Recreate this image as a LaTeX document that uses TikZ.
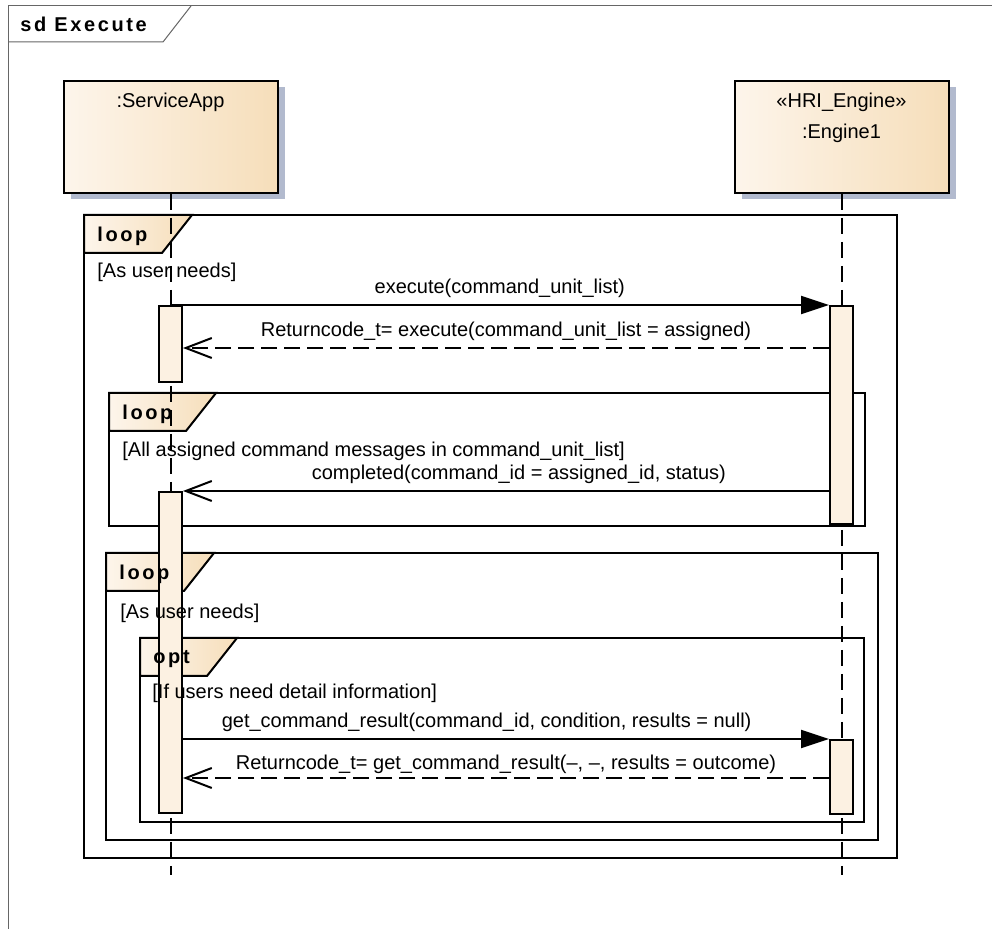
\documentclass[tikz,border=0pt]{standalone}
\usepackage{fontspec}
\setmainfont{Liberation Sans}
\newfontfamily\tagfont[LetterSpace=13]{Liberation Sans}
\usetikzlibrary{positioning,calc,arrows.meta,shadows}

\definecolor{headL}{RGB}{253,245,235}
\definecolor{headR}{RGB}{246,222,186}
\definecolor{shade}{RGB}{178,186,206}
\definecolor{actfill}{RGB}{252,241,226}

\tikzset{
  head/.style={draw,line width=1pt,left color=headL,right color=headR,
    minimum width=107pt,minimum height=56pt,
    drop shadow={shadow xshift=3.5pt,shadow yshift=-3pt,fill=shade,opacity=1}},
  act/.style={draw,line width=1pt,fill=actfill,minimum width=11.5pt,inner sep=0pt,anchor=north},
  frame/.style={draw,line width=1pt,anchor=north west,outer sep=0pt,inner sep=0pt},
  tab/.style={draw,line width=1pt,left color=headL,right color=headR},
  tagtext/.style={font=\tagfont\bfseries\fontsize{10}{12}\selectfont,inner sep=0pt,anchor=west},
  guard/.style={anchor=west,inner sep=0pt},
  sdline/.style={draw=black!60,line width=0.5pt},
  lifeline/.style={line width=1pt,dash pattern=on 8pt off 4pt},
  call/.style={-{Triangle[length=14pt,width=9pt]},line width=1pt},
  async/.style={-{Straight Barb[length=13pt,width=10pt]},line width=1pt},
  reply/.style={async,dash pattern=on 8pt off 3.5pt}
}

% tab of a combined fragment: frame, tab width
\newcommand{\fragtab}[2]{%
  \filldraw[tab] (#1.north west) -- ++(#2,0) -- ++(-30,38) -- ++({30-#2},0) -- cycle;}

\begin{document}
\begin{tikzpicture}[x=0.5pt,y=-0.5pt,>=latex,node distance=0pt,font=\fontsize{10}{12}\selectfont]
\useasboundingbox (0,0) rectangle (992,929);

% the sd frame
\draw[sdline] (992,6) -- (8,6) -- (8,929);
\draw[sdline] (8,42) -- (163,42) -- (191,6);
\node[tagtext] (sd) at (20,24) {sd Execute};

% the lifeline heads
\node[head] (app) at (170.5,137) {};
\node[head,right=227.5pt of app] (eng) {};
\node[below=3pt of app.north] (appname) {:ServiceApp};
\node[below=3pt of eng.north,align=center,font=\fontsize{10}{15.5}\selectfont] (engname) {<<HRI\_Engine>>\\:Engine1};

% the combined fragments
\node[frame,minimum width=406.5pt,minimum height=321.5pt] (lp1) at (84,215) {};
\node[frame,minimum width=378pt,minimum height=66.5pt] (lp2) at (109,393) {};
\node[frame,minimum width=386pt,minimum height=143.5pt] (lp3) at (106,553) {};
\node[frame,minimum width=362pt,minimum height=92pt] (op) at (140,638) {};
\fragtab{lp1}{108}
\fragtab{lp2}{107}
\fragtab{lp3}{108}
\fragtab{op}{97}

% the lifelines
\coordinate (bottom) at (0,875);
\draw[lifeline] (app.south) -- (app.south |- bottom);
\draw[lifeline] (eng.south) -- (eng.south |- bottom);

% the activations
\node[act,minimum height=38pt] (a1) at (app.south |- 0,305) {};
\node[act,minimum height=160.5pt] (a2) at (app.south |- 0,491) {};
\node[act,minimum height=109pt] (e1) at (eng.south |- 0,305) {};
\node[act,minimum height=37pt] (e2) at (eng.south |- 0,739) {};

% the fragment labels and guards
\node[tagtext] (t1) at ($(lp1.north west)+(13,21)$) {loop};
\node[tagtext] (t2) at ($(lp2.north west)+(13,21)$) {loop};
\node[tagtext] (t3) at ($(lp3.north west)+(13,21)$) {loop};
\node[tagtext] (t4) at ($(op.north west)+(13,21)$) {opt};
\node[guard] (g1) at ($(lp1.north west)+(13,57)$) {[As user needs]};
\node[guard] (g2) at ($(lp2.north west)+(13,58)$) {[All assigned command messages in command\_unit\_list]};
\node[guard] (g3) at ($(lp3.north west)+(14,60)$) {[As user needs]};
\node[guard] (g4) at ($(op.north west)+(12,55)$) {[If users need detail information]};

% the messages
\draw[call] (a1.north) -- node[above] (m1) {execute(command\_unit\_list)} (e1.north west);
\draw[reply] (e1.west |- 0,348) -- node[above] (m2) {Returncode\_t= execute(command\_unit\_list = assigned)} (a1.east |- 0,348);
\draw[async] (e1.west |- a2.north) -- node[above,pos=0.48] (m3) {completed(command\_id = assigned\_id, status)} (a2.north east);
\draw[call] (a2.east |- e2.north) -- node[above,pos=0.47] (m4) {get\_command\_result(command\_id, condition, results = null)} (e2.north west);
\draw[reply] (e2.west |- 0,778) -- node[above,inner sep=1.5pt] (m5) {Returncode\_t= get\_command\_result(–, –, results = outcome)} (a2.east |- 0,778);
\end{tikzpicture}
\end{document}
